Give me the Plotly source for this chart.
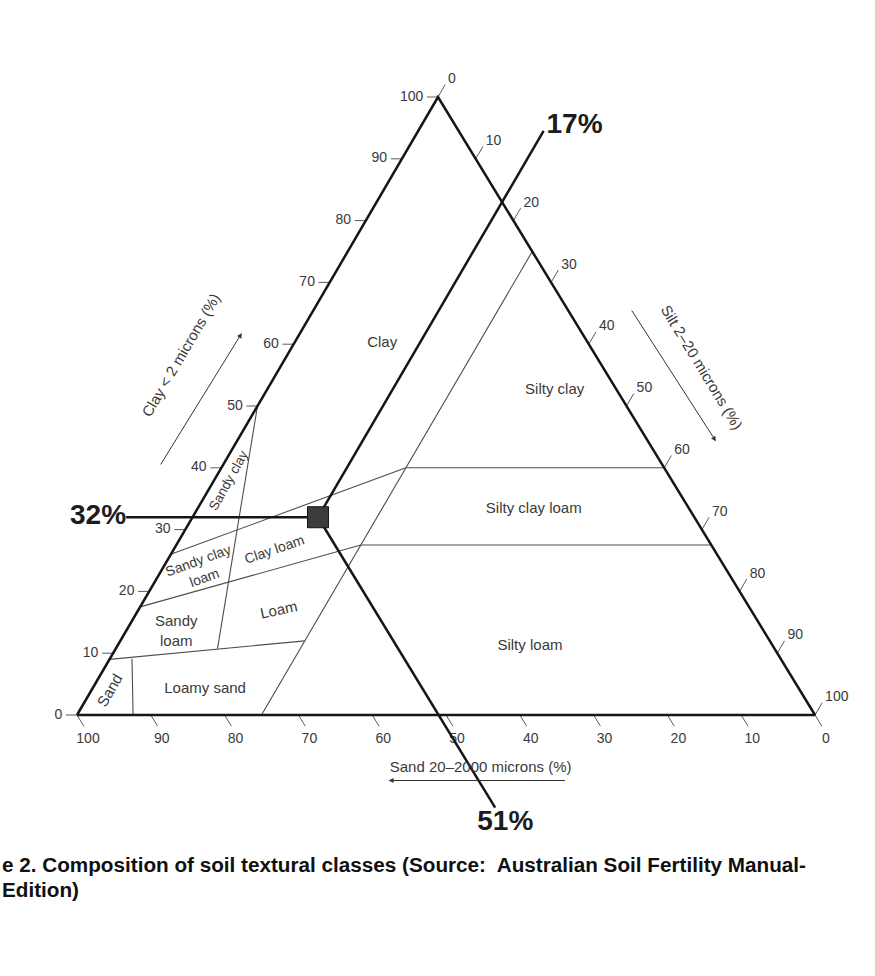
import plotly.graph_objects as go

# ------------------------------------------------------------------ data
tick_values = [0, 10, 20, 30, 40, 50, 60, 70, 80, 90, 100]
clay_tick_labels = [str(v) for v in tick_values]
silt_tick_labels = [str(v) for v in tick_values]
sand_tick_labels = [str(v) for v in tick_values]

# triangle outline (clay %, silt %): sand corner, silt corner, clay corner
outline_clay = [0, 0, 100, 0]
outline_silt = [0, 100, 0, 0]

# sample soil in %
sample_clay = 32
sample_silt = 17
sample_sand = 51
sample_labels = ["32%", "17%", "51%"]
# where the guide lines through the sample stop (outside the triangle)
guide_silt_line_clay_end = 94.5   # 17 % silt line ends at this clay value
guide_sand_line_clay_end = -15    # 51 % sand line ends at this clay value
guide_clay_line_silt_end = -9     # 32 % clay line ends at this silt value

# class boundaries: clay and silt of each end (sand = 100 - clay - silt)
silt25_clay = [0, 75]
silt25_silt = [25, 25]
clay40_clay = [40, 40]
clay40_silt = [25, 60]
clay27_clay = [27.5, 27.5]
clay27_silt = [25, 72.5]
clayloam_top_clay = [26, 40]
clayloam_top_silt = [0, 25]
sandyloam_top_clay = [17.5, 27.5]
sandyloam_top_silt = [0, 25]
loamysand_top_clay = [9, 12]
loamysand_top_silt = [0, 25]
sandyclay_clay = [50, 10.7]
sandyclay_silt = [0, 13.8]
sand_clay = [0, 9.1]
sand_silt = [7.6, 3.0]

# upright class labels (clay %, silt % of the label centre)
class_names = ["Clay", "Silty clay", "Silty clay loam", "Silty loam",
               "Loamy sand", "Sandy<br>loam"]
class_clay = [60.2, 52.6, 33.3, 11.2, 4.2, 13.4]
class_silt = [11.9, 39.0, 45.6, 55.9, 15.3, 6.9]

# rotated class labels
rot_names = ["Sandy clay", "Sand", "Loam", "Clay loam", "Sandy clay<br>loam"]
rot_clay = [38.0, 4.0, 17.0, 26.9, 23.6]
rot_silt = [1.9, 2.4, 19.0, 13.6, 5.2]
rot_angle = [-61, -60, -12, -19, -20]
rot_size = [13.5, 15, 15, 14, 14]

axis_titles = ["Clay < 2 microns (%)", "Silt 2–20 microns (%)",
               "Sand 20–2000 microns (%)"]
caption_line1 = "e 2. Composition of soil textural classes (Source:  Australian Soil Fertility Manual-"
caption_line2 = "Edition)"

# ------------------------------------------------------------------ layout geometry
FIG_W, FIG_H = 875, 976
BL_X, BR_X, BASE_Y = 77, 815, 715      # page pixels of the base of the triangle
TOP_X, TOP_Y = 438, 97                 # page pixels of the clay apex
SKEW = (TOP_X - BL_X) / (BR_X - BL_X)
PX_X = (BR_X - BL_X) / 100
PX_Y = (BASE_Y - TOP_Y) / 100
FONT = "Liberation Sans, Arial, Helvetica, sans-serif"
TXT = "#3a3a3a"


def to_xy(clay, silt):
    """ternary (clay, silt) -> plane position used on the hidden axes"""
    xs, ys = [], []
    for c, s in zip(clay, silt):
        if c is None:
            xs.append(None)
            ys.append(None)
        else:
            xs.append(s + SKEW * c)
            ys.append(c)
    return xs, ys


fig = go.Figure()


def add_line(clay, silt, color, width):
    x, y = to_xy(clay, silt)
    fig.add_trace(go.Scatter(x=x, y=y, mode="lines",
                             line=dict(color=color, width=width),
                             hoverinfo="skip", showlegend=False, cliponaxis=False))


def add_text(clay, silt, text, position, size=15, color=TXT, bold=False):
    x, y = to_xy(clay, silt)
    fig.add_trace(go.Scatter(x=x, y=y, mode="text", text=text,
                             textposition=position,
                             textfont=dict(family=FONT, size=size, color=color,
                                           weight="bold" if bold else "normal"),
                             hoverinfo="skip", showlegend=False, cliponaxis=False))


# class boundaries
for cl, si in [(silt25_clay, silt25_silt), (clay40_clay, clay40_silt),
               (clay27_clay, clay27_silt), (clayloam_top_clay, clayloam_top_silt),
               (sandyloam_top_clay, sandyloam_top_silt),
               (loamysand_top_clay, loamysand_top_silt),
               (sandyclay_clay, sandyclay_silt), (sand_clay, sand_silt)]:
    add_line(cl, si, "#4d4d4d", 1.1)

# tick marks
K_CLAY, K_SILT, K_SAND = 1.5, 2.0, 1.8
tc, ts = [], []
for v in tick_values:          # clay ticks: horizontal, to the left
    tc += [v, v, None]
    ts += [0, -K_CLAY, None]
for v in tick_values:          # silt ticks: up-right, along constant silt
    tc += [100 - v, 100 - v + K_SILT, None]
    ts += [v, v, None]
for v in tick_values:          # sand ticks: down-right, along constant sand
    tc += [0, -K_SAND, None]
    ts += [100 - v, 100 - v + K_SAND, None]
add_line(tc, ts, "#5a5a5a", 1.0)

# triangle outline
add_line(outline_clay, outline_silt, "#161616", 2.5)

# tick labels
add_text(tick_values, [-2.0] * len(tick_values), clay_tick_labels, "middle left", size=14)
add_text([100 - v + 2.8 for v in tick_values], tick_values, silt_tick_labels,
         "middle right", size=14)
add_text([-3.9] * len(tick_values), [100 - v + 3.4 for v in tick_values],
         sand_tick_labels, "middle center", size=14)

# guide lines through the sample
add_line([sample_clay, guide_silt_line_clay_end], [sample_silt, sample_silt], "#161616", 2.5)
add_line([sample_clay, guide_sand_line_clay_end],
         [sample_silt, 100 - sample_sand - guide_sand_line_clay_end], "#161616", 2.5)
add_line([sample_clay, sample_clay], [sample_silt, guide_clay_line_silt_end], "#161616", 2.5)

# sample marker
sx, sy = to_xy([sample_clay], [sample_silt])
fig.add_trace(go.Scatter(x=sx, y=sy, mode="markers",
                         marker=dict(symbol="square", size=21, color="#3c3c3c",
                                     line=dict(color="#111111", width=1)),
                         hoverinfo="skip", showlegend=False))

# big percentage labels
add_text([sample_clay], [guide_clay_line_silt_end], [sample_labels[0]], "middle left",
         size=28, color="#1c1c1c", bold=True)
add_text([guide_silt_line_clay_end + 0.8], [sample_silt], [sample_labels[1]], "middle right",
         size=28, color="#1c1c1c", bold=True)
add_text([-17.5], [66.6], [sample_labels[2]], "middle center", size=28,
         color="#1c1c1c", bold=True)

# upright class labels
add_text(class_clay, class_silt, class_names, "middle center")

# sand axis title
add_text([-8.6], [58.9], [axis_titles[2]], "middle center")

annotations = []
for name, c, s, ang, fs in zip(rot_names, rot_clay, rot_silt, rot_angle, rot_size):
    (x,), (y,) = to_xy([c], [s])
    annotations.append(dict(x=x, y=y, xref="x", yref="y", text=name, showarrow=False,
                            textangle=ang, xanchor="center", yanchor="middle",
                            font=dict(family=FONT, size=fs, color=TXT)))
for text, c, s, ang in [(axis_titles[0], 58.3, -14.4, -59.7),
                        (axis_titles[1], 56.3, 57.2, 58.6)]:
    (x,), (y,) = to_xy([c], [s])
    annotations.append(dict(x=x, y=y, xref="x", yref="y", text=text, showarrow=False,
                            textangle=ang, xanchor="center", yanchor="middle",
                            font=dict(family=FONT, size=15, color=TXT)))
# axis arrows (head, tail) in (clay, silt)
for head, tail in [((61.8, -7.9), (40.3, -8.5)),
                   ((44.3, 64.9), (65.7, 42.9)),
                   ((-10.6, 47.4), (-10.6, 71.5))]:
    (hx,), (hy,) = to_xy([head[0]], [head[1]])
    (tx,), (ty,) = to_xy([tail[0]], [tail[1]])
    annotations.append(dict(x=hx, y=hy, xref="x", yref="y", ax=tx, ay=ty,
                            axref="x", ayref="y", text="", showarrow=True,
                            arrowhead=2, arrowsize=1, arrowwidth=1,
                            arrowcolor="#333333"))
# caption
annotations.append(dict(x=0, y=1 - 864 / FIG_H, xref="paper", yref="paper",
                        xanchor="left", yanchor="middle", showarrow=False,
                        text="<b>" + caption_line1 + "</b>",
                        font=dict(family=FONT, size=20.7, color="#111111")))
annotations.append(dict(x=0, y=1 - 889 / FIG_H, xref="paper", yref="paper",
                        xanchor="left", yanchor="middle", showarrow=False,
                        text="<b>" + caption_line2 + "</b>",
                        font=dict(family=FONT, size=20.7, color="#111111")))

fig.update_layout(
    width=FIG_W, height=FIG_H,
    margin=dict(l=0, r=0, t=0, b=0),
    paper_bgcolor="white", plot_bgcolor="white",
    showlegend=False,
    xaxis=dict(visible=False, range=[-BL_X / PX_X, (FIG_W - BL_X) / PX_X], fixedrange=True),
    yaxis=dict(visible=False, range=[(BASE_Y - FIG_H) / PX_Y, BASE_Y / PX_Y], fixedrange=True),
    annotations=annotations,
)

fig.write_html("out.html", config={"displayModeBar": False},
               post_script="document.body.style.margin='0px';")
